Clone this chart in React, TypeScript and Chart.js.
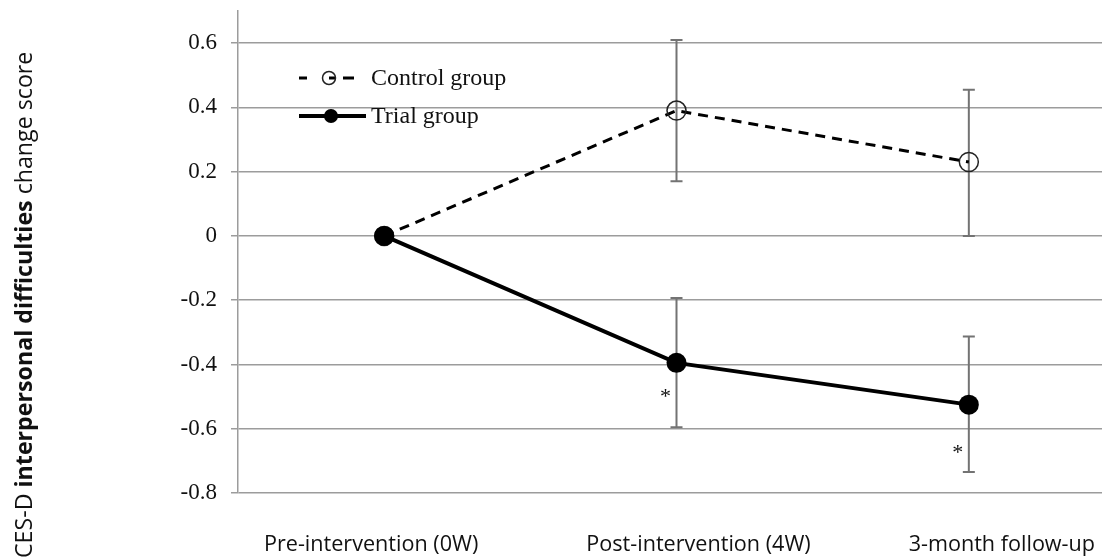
import React, { useEffect, useRef } from "react";
import { Chart, registerables } from "chart.js";

Chart.register(...registerables);

// ---- data ----
const categories = ["Pre-intervention (0W)", "Post-intervention (4W)", "3-month follow-up"];
const seriesNames = ["Control group", "Trial group"];
const controlMeans = [0, 0.39, 0.23];
const controlLow: (number | null)[] = [null, 0.17, 0.0];
const controlHigh: (number | null)[] = [null, 0.61, 0.455];
const trialMeans = [0, -0.395, -0.525];
const trialLow: (number | null)[] = [null, -0.595, -0.735];
const trialHigh: (number | null)[] = [null, -0.193, -0.313];
const starValues: (number | null)[] = [null, -0.49, -0.665];
const yTicks = [-0.8, -0.6, -0.4, -0.2, 0, 0.2, 0.4, 0.6];
const yMin = -0.8;
const yMax = 0.7;
const yTitleParts: [string, boolean][] = [
  ["CES-D ", false],
  ["interpersonal difficulties", true],
  [" change score", false],
];

const SERIF = "'Liberation Serif', 'Times New Roman', serif";
const SANS = "'Open Sans', 'Noto Sans', sans-serif";
const labelShift = [-13, 22, 33];

const errorBars = {
  id: "errorBars",
  beforeDatasetsDraw(chart: any) {
    const ctx = chart.ctx;
    const xs = chart.scales.x;
    const ys = chart.scales.y;
    const groups = [
      [controlLow, controlHigh],
      [trialLow, trialHigh],
    ];
    ctx.save();
    ctx.strokeStyle = "#737373";
    ctx.lineWidth = 2;
    groups.forEach(([lo, hi]) => {
      lo.forEach((l, i) => {
        const h = hi[i];
        if (l == null || h == null) return;
        const x = xs.getPixelForValue(i);
        const y1 = ys.getPixelForValue(l);
        const y2 = ys.getPixelForValue(h);
        ctx.beginPath();
        ctx.moveTo(x, y1);
        ctx.lineTo(x, y2);
        ctx.moveTo(x - 6, y1);
        ctx.lineTo(x + 6, y1);
        ctx.moveTo(x - 6, y2);
        ctx.lineTo(x + 6, y2);
        ctx.stroke();
      });
    });
    ctx.restore();
  },
  afterDatasetsDraw(chart: any) {
    const ctx = chart.ctx;
    const xs = chart.scales.x;
    const ys = chart.scales.y;
    ctx.save();
    ctx.fillStyle = "#111";
    ctx.font = `22px ${SERIF}`;
    ctx.textAlign = "center";
    ctx.textBaseline = "middle";
    starValues.forEach((v, i) => {
      if (v == null) return;
      ctx.fillText("*", xs.getPixelForValue(i) - 11, ys.getPixelForValue(v) + 4);
    });
    ctx.restore();
  },
};

const extras = {
  id: "extras",
  afterDraw(chart: any) {
    const ctx = chart.ctx;
    const xs = chart.scales.x;
    // x category labels
    ctx.save();
    ctx.font = `21.6px ${SANS}`;
    ctx.fillStyle = "#111";
    ctx.textAlign = "center";
    ctx.textBaseline = "middle";
    categories.forEach((c, i) => {
      ctx.fillText(c, xs.getPixelForValue(i) + labelShift[i], 545);
    });
    ctx.restore();

    // y title with mixed weights
    ctx.save();
    ctx.translate(25, 558);
    ctx.rotate(-Math.PI / 2);
    ctx.textBaseline = "middle";
    ctx.textAlign = "left";
    ctx.fillStyle = "#111";
    let x = 0;
    yTitleParts.forEach(([t, bold]) => {
      ctx.font = `${bold ? "bold " : ""}23.2px ${SANS}`;
      ctx.fillText(t, x, 0);
      x += ctx.measureText(t).width;
    });
    ctx.restore();

    // legend
    const ds = chart.data.datasets;
    ctx.save();
    ctx.font = `24px ${SERIF}`;
    ctx.textBaseline = "middle";
    ctx.fillStyle = "#111";
    const cy = 78;
    ctx.strokeStyle = "#000";
    ctx.lineWidth = ds[0].borderWidth;
    ctx.beginPath();
    ctx.moveTo(299, cy);
    ctx.lineTo(307, cy);
    ctx.moveTo(329, cy);
    ctx.lineTo(335, cy);
    ctx.moveTo(343, cy);
    ctx.lineTo(354, cy);
    ctx.stroke();
    ctx.lineWidth = 1.5;
    ctx.strokeStyle = "#222";
    ctx.beginPath();
    ctx.arc(329, cy, 6.5, 0, Math.PI * 2);
    ctx.stroke();
    ctx.fillText(seriesNames[0], 371, cy + 1);
    const ty = 116;
    ctx.strokeStyle = "#000";
    ctx.lineWidth = ds[1].borderWidth;
    ctx.beginPath();
    ctx.moveTo(299, ty);
    ctx.lineTo(366, ty);
    ctx.stroke();
    ctx.fillStyle = "#000";
    ctx.beginPath();
    ctx.arc(331, ty, 7, 0, Math.PI * 2);
    ctx.fill();
    ctx.fillStyle = "#111";
    ctx.fillText(seriesNames[1], 371, ty + 1);
    ctx.restore();
  },
};

export default function App() {
  const ref = useRef<HTMLCanvasElement>(null);
  useEffect(() => {
    if (!ref.current) return;
    const chart = new Chart(ref.current, {
      type: "line",
      data: {
        labels: categories,
        datasets: [
          {
            label: seriesNames[0],
            data: controlMeans,
            borderColor: "#000",
            borderWidth: 3,
            borderDash: [10, 7],
            pointRadius: 9.5,
            pointBorderWidth: 1.5,
            pointBorderColor: "#222",
            pointBackgroundColor: "rgba(0,0,0,0)",
            order: 2,
          },
          {
            label: seriesNames[1],
            data: trialMeans,
            borderColor: "#000",
            borderWidth: 4,
            pointRadius: 10,
            pointBorderWidth: 0,
            pointBackgroundColor: "#000",
            order: 1,
          },
        ],
      },
      options: {
        animation: false,
        responsive: false,
        layout: { padding: { left: 0, right: 4, top: 7, bottom: 0 } },
        plugins: { legend: { display: false }, tooltip: { enabled: false } },
        scales: {
          x: {
            offset: true,
            grid: { display: false, drawTicks: false },
            border: { display: false },
            ticks: { display: false },
            afterFit(scale: any) {
              scale.height = 67;
              scale.paddingLeft = 0;
              scale.paddingRight = 0;
            },
          },
          y: {
            min: yMin,
            max: yMax,
            afterBuildTicks(scale: any) {
              scale.ticks = yTicks.map((v) => ({ value: v }));
            },
            afterFit(scale: any) {
              scale.width = 238;
              scale.paddingTop = 0;
              scale.paddingBottom = 0;
            },
            grid: { color: "#9c9c9c", lineWidth: 1.5, tickLength: 7 },
            border: { color: "#9c9c9c", width: 1.5 },
            ticks: {
              padding: 14,
              color: "#111",
              font: { family: SERIF, size: 23 },
              callback: (v: any) => String(Math.round(Number(v) * 10) / 10),
            },
          },
        },
      },
      plugins: [errorBars, extras],
    });
    return () => chart.destroy();
  }, []);
  return (
    <div style={{ position: "absolute", left: 0, top: 0, width: 1102, height: 560, overflow: "hidden", background: "#fff" }}>
      <canvas ref={ref} width={1126} height={560} />
    </div>
  );
}
